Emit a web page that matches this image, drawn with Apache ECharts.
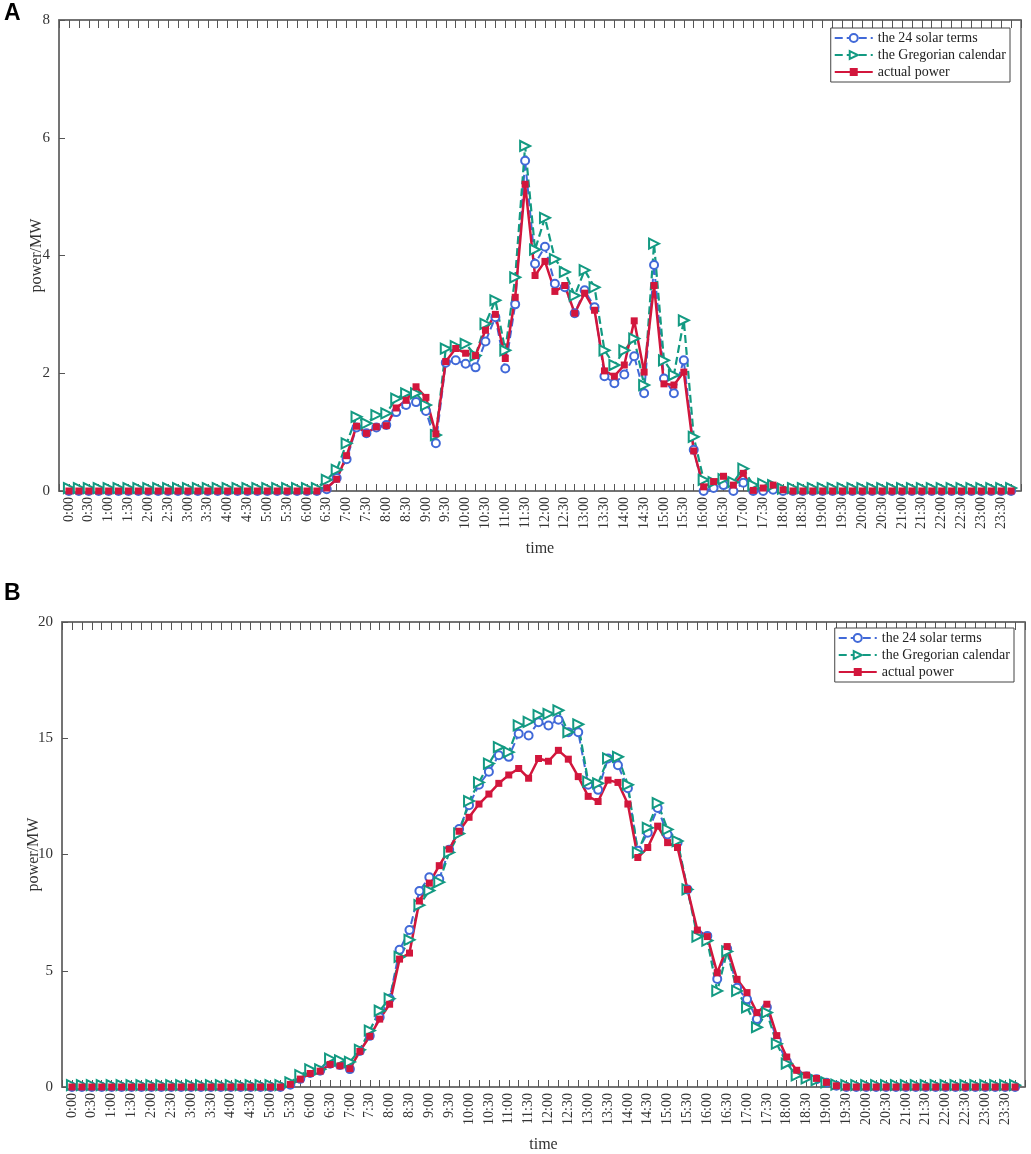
<!DOCTYPE html>
<html>
<head>
<meta charset="utf-8">
<script src="https://cdn.jsdelivr.net/npm/echarts@6/dist/echarts.min.js"></script>
<style>
html, body { margin: 0; padding: 0; background: #fff; }
#chart { width: 1031px; height: 1154px; }
</style>
</head>
<body>
<div id="chart"></div>
<script>
// tick labels, one every 30 minutes (data points are every 15 minutes)
var timeLabels = [
    '0:00', '0:30', '1:00', '1:30', '2:00', '2:30', '3:00', '3:30',
    '4:00', '4:30', '5:00', '5:30', '6:00', '6:30', '7:00', '7:30',
    '8:00', '8:30', '9:00', '9:30', '10:00', '10:30', '11:00', '11:30',
    '12:00', '12:30', '13:00', '13:30', '14:00', '14:30', '15:00', '15:30',
    '16:00', '16:30', '17:00', '17:30', '18:00', '18:30', '19:00', '19:30',
    '20:00', '20:30', '21:00', '21:30', '22:00', '22:30', '23:00', '23:30'
];

var seriesNames = ['the 24 solar terms', 'the Gregorian calendar', 'actual power'];

// panel A
var solarA = [
    0, 0, 0, 0, 0, 0, 0, 0,
    0, 0, 0, 0, 0, 0, 0, 0,
    0, 0, 0, 0, 0, 0, 0, 0,
    0, 0, 0.03, 0.22, 0.54, 1.08, 0.98, 1.08,
    1.12, 1.34, 1.46, 1.51, 1.36, 0.81, 2.18, 2.22,
    2.16, 2.1, 2.54, 2.95, 2.08, 3.17, 5.61, 3.86,
    4.15, 3.52, 3.46, 3.02, 3.41, 3.12, 1.95, 1.83,
    1.98, 2.29, 1.66, 3.84, 1.91, 1.66, 2.22, 0.7,
    0, 0.05, 0.1, 0, 0.14, 0, 0, 0.02,
    0, 0, 0, 0, 0, 0, 0, 0,
    0, 0, 0, 0, 0, 0, 0, 0,
    0, 0, 0, 0, 0, 0, 0, 0
];
var gregA = [
    0.05, 0.05, 0.05, 0.05, 0.05, 0.05, 0.05, 0.05,
    0.05, 0.05, 0.05, 0.05, 0.05, 0.05, 0.05, 0.05,
    0.05, 0.05, 0.05, 0.05, 0.05, 0.05, 0.05, 0.05,
    0.05, 0.05, 0.19, 0.36, 0.81, 1.26, 1.15, 1.29,
    1.32, 1.57, 1.66, 1.66, 1.46, 0.95, 2.42, 2.46,
    2.5, 2.3, 2.84, 3.24, 2.39, 3.63, 5.86, 4.1,
    4.64, 3.94, 3.72, 3.32, 3.75, 3.46, 2.39, 2.14,
    2.39, 2.59, 1.8, 4.2, 2.22, 1.97, 2.9, 0.92,
    0.19, 0.15, 0.2, 0.15, 0.38, 0.1, 0.12, 0.1,
    0.04, 0.05, 0.05, 0.05, 0.05, 0.05, 0.05, 0.05,
    0.05, 0.05, 0.05, 0.05, 0.05, 0.05, 0.05, 0.05,
    0.05, 0.05, 0.05, 0.05, 0.05, 0.05, 0.05, 0.05
];
var actualA = [
    0, 0, 0, 0, 0, 0, 0, 0,
    0, 0, 0, 0, 0, 0, 0, 0,
    0, 0, 0, 0, 0, 0, 0, 0,
    0, 0, 0.05, 0.2, 0.6, 1.1, 0.98, 1.09,
    1.11, 1.41, 1.54, 1.77, 1.59, 0.97, 2.2, 2.42,
    2.34, 2.3, 2.73, 3.0, 2.25, 3.29, 5.21, 3.66,
    3.9, 3.39, 3.49, 3.02, 3.36, 3.07, 2.04, 1.95,
    2.14, 2.89, 2.02, 3.49, 1.82, 1.8, 2.02, 0.68,
    0.07, 0.16, 0.25, 0.1, 0.3, 0.01, 0.05, 0.1,
    0.02, 0, 0, 0, 0, 0, 0, 0,
    0, 0, 0, 0, 0, 0, 0, 0,
    0, 0, 0, 0, 0, 0, 0, 0
];

// panel B
var solarB = [
    0, 0, 0, 0, 0, 0, 0, 0,
    0, 0, 0, 0, 0, 0, 0, 0,
    0, 0, 0, 0, 0, 0, 0.1, 0.35,
    0.6, 0.7, 1.0, 0.95, 0.77, 1.55, 2.2, 3.0,
    3.8, 5.9, 6.75, 8.43, 9.02, 8.95, 10.2, 11.1,
    12.12, 13.0, 13.56, 14.27, 14.2, 15.19, 15.12, 15.69,
    15.55, 15.8, 15.26, 15.26, 13.0, 12.78, 14.13, 13.84,
    12.85, 10.16, 10.94, 12.0, 10.86, 10.51, 8.5, 6.6,
    6.5, 4.65, 5.95, 4.27, 3.77, 2.92, 3.43, 2.0,
    1.1, 0.6, 0.45, 0.33, 0.18, 0.05, 0, 0,
    0, 0, 0, 0, 0, 0, 0, 0,
    0, 0, 0, 0, 0, 0, 0, 0
];
var gregB = [
    0.08, 0.08, 0.08, 0.08, 0.08, 0.08, 0.08, 0.08,
    0.08, 0.08, 0.08, 0.08, 0.08, 0.08, 0.08, 0.08,
    0.08, 0.08, 0.08, 0.08, 0.08, 0.08, 0.2, 0.51,
    0.76, 0.76, 1.22, 1.15, 1.08, 1.6, 2.43, 3.28,
    3.8, 5.6, 6.33, 7.82, 8.45, 8.81, 10.09, 10.9,
    12.3, 13.1, 13.91, 14.62, 14.4, 15.55, 15.7, 16.0,
    16.05, 16.2, 15.26, 15.6, 13.13, 13.06, 14.13, 14.2,
    13.0, 10.09, 11.15, 12.21, 11.08, 10.58, 8.5, 6.47,
    6.3, 4.13, 5.83, 4.13, 3.42, 2.57, 3.2, 1.86,
    1.01, 0.5, 0.37, 0.3, 0.2, 0.1, 0.08, 0.08,
    0.08, 0.08, 0.08, 0.08, 0.08, 0.08, 0.08, 0.08,
    0.08, 0.08, 0.08, 0.08, 0.08, 0.08, 0.08, 0.08
];
var actualB = [
    0, 0, 0, 0, 0, 0, 0, 0,
    0, 0, 0, 0, 0, 0, 0, 0,
    0, 0, 0, 0, 0, 0, 0.11, 0.34,
    0.58, 0.68, 0.97, 0.91, 0.79, 1.53, 2.18, 2.92,
    3.56, 5.5, 5.76, 8.0, 8.77, 9.52, 10.23, 11.0,
    11.6, 12.17, 12.6, 13.06, 13.42, 13.7, 13.28, 14.13,
    14.01, 14.48, 14.1, 13.35, 12.5, 12.28, 13.2, 13.1,
    12.17, 9.87, 10.3, 11.22, 10.51, 10.3, 8.5, 6.75,
    6.47, 4.91, 6.04, 4.63, 4.06, 3.2, 3.56, 2.21,
    1.29, 0.72, 0.51, 0.37, 0.2, 0.05, 0, 0,
    0, 0, 0, 0, 0, 0, 0, 0,
    0, 0, 0, 0, 0, 0, 0, 0
];

var BLUE = '#4169d8';
var GREEN = '#139a82';
var RED = '#d2163c';
var AXIS = '#6b6b6b';
var SERIF = 'Liberation Serif';

function toPairs(arr) {
    return arr.map(function (v, i) { return [i, v]; });
}

function bottomAxis(g) {
    return {
        type: 'value', gridIndex: g, position: 'bottom',
        min: -1, max: 96, interval: 1,
        axisLine: { onZero: false, lineStyle: { color: AXIS, width: 1.5 } },
        axisTick: { inside: true, length: 7, lineStyle: { color: '#555' } },
        axisLabel: {
            rotate: 90, margin: 6, fontFamily: SERIF, fontSize: 14, color: '#333',
            formatter: function (v) {
                if (v >= 0 && v % 2 === 0 && v / 2 < timeLabels.length) return timeLabels[v / 2];
                return '';
            }
        },
        splitLine: { show: false },
        name: 'time', nameLocation: 'middle', nameGap: 50,
        nameTextStyle: { fontFamily: SERIF, fontSize: 16, color: '#333' }
    };
}

function topAxis(g) {
    return {
        type: 'value', gridIndex: g, position: 'top',
        min: -1, max: 96, interval: 1,
        axisLine: { onZero: false, lineStyle: { color: AXIS, width: 1.5 } },
        axisTick: { inside: true, length: 8, lineStyle: { color: '#555' } },
        axisLabel: { show: false },
        splitLine: { show: false }
    };
}

function leftAxis(g, max, step, gap) {
    return {
        type: 'value', gridIndex: g, min: 0, max: max, interval: step,
        axisLine: { show: true, onZero: false, lineStyle: { color: AXIS, width: 1.5 } },
        axisTick: { show: true, inside: true, length: 6, lineStyle: { color: '#555' } },
        axisLabel: { margin: 9, fontFamily: SERIF, fontSize: 15, color: '#333' },
        splitLine: { show: false },
        name: 'power/MW', nameLocation: 'middle', nameGap: gap, nameMoveOverlap: false,
        nameTextStyle: { fontFamily: SERIF, fontSize: 16, color: '#333' }
    };
}

function makeSeries(g, solar, greg, actual) {
    return [
        {
            name: seriesNames[0], type: 'line', xAxisIndex: g * 2, yAxisIndex: g,
            data: toPairs(solar), symbol: 'circle', symbolSize: 8, showAllSymbol: true,
            lineStyle: { color: BLUE, width: 2, type: [8, 4] },
            itemStyle: { color: '#fff', borderColor: BLUE, borderWidth: 2 }
        },
        {
            name: seriesNames[1], type: 'line', xAxisIndex: g * 2, yAxisIndex: g,
            data: toPairs(greg), symbol: 'triangle', symbolRotate: -90, symbolSize: 10, showAllSymbol: true,
            lineStyle: { color: GREEN, width: 2.2, type: [8, 4] },
            itemStyle: { color: '#fff', borderColor: GREEN, borderWidth: 2 }
        },
        {
            name: seriesNames[2], type: 'line', xAxisIndex: g * 2, yAxisIndex: g,
            data: toPairs(actual), symbol: 'rect', symbolSize: 7, showAllSymbol: true,
            lineStyle: { color: RED, width: 2.5 },
            itemStyle: { color: RED }
        }
    ];
}

function makeLegend(top, right) {
    return {
        top: top, right: right, orient: 'vertical',
        data: seriesNames,
        backgroundColor: '#fff', borderColor: '#444', borderWidth: 1,
        padding: [3, 4, 3, 3], itemGap: 3, itemWidth: 38, itemHeight: 10,
        textStyle: { fontFamily: SERIF, fontSize: 14, color: '#222' }
    };
}

var chart = echarts.init(document.getElementById('chart'));

var option = {
    animation: false,
    backgroundColor: '#fff',
    title: [
        { text: 'A', left: 4, top: 2, padding: 0,
          textStyle: { fontFamily: 'Liberation Sans', fontWeight: 'bold', fontSize: 23, color: '#000' } },
        { text: 'B', left: 4, top: 582, padding: 0,
          textStyle: { fontFamily: 'Liberation Sans', fontWeight: 'bold', fontSize: 23, color: '#000' } }
    ],
    legend: [makeLegend(28, 21), makeLegend(628, 17)],
    grid: [
        { left: 59, top: 20, width: 962, height: 471, show: true, borderColor: AXIS, borderWidth: 1.5 },
        { left: 62, top: 622, width: 963, height: 470, show: true, borderColor: AXIS, borderWidth: 1.5 }
    ],
    xAxis: [bottomAxis(0), topAxis(0), bottomAxis(1), topAxis(1)],
    yAxis: [leftAxis(0, 8, 2, 14), leftAxis(1, 20, 5, 20)],
    series: makeSeries(0, solarA, gregA, actualA).concat(makeSeries(1, solarB, gregB, actualB))
};

chart.setOption(option);
</script>
</body>
</html>
